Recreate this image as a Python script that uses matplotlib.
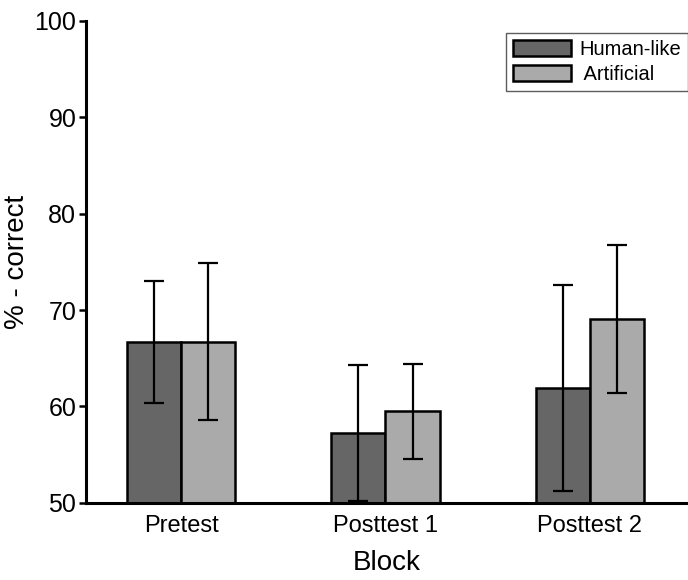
import matplotlib.pyplot as plt
import numpy as np

plt.rcParams["font.family"] = ["Liberation Sans", "DejaVu Sans"]

blocks = ["Pretest", "Posttest 1", "Posttest 2"]
human_mean = [66.7, 57.2, 61.9]
human_err = [6.35, 7.05, 10.7]
artificial_mean = [66.7, 59.5, 69.05]
artificial_err = [8.15, 4.95, 7.65]

x = np.arange(1, len(blocks) + 1)
w = 0.265

fig = plt.figure(figsize=(6.88, 5.8), dpi=100)
ax = fig.add_axes([0.125, 0.133, 0.875, 0.831])

err_kw = dict(ecolor="k", elinewidth=1.6, capsize=7, capthick=1.6)
ax.bar(x - w / 2, human_mean, w, yerr=human_err, color="#666666", ec="k", lw=1.8,
       label="Human-like", error_kw=err_kw, zorder=2)
ax.bar(x + w / 2, artificial_mean, w, yerr=artificial_err, color="#aaaaaa", ec="k", lw=1.8,
       label=" Artificial", error_kw=err_kw, zorder=2)

ax.set_xlim(0.535, 3.48)
ax.set_ylim(50, 100)
ax.set_yticks([50, 60, 70, 80, 90, 100])
ax.set_xticks(x)
ax.set_xticklabels(blocks)
ax.tick_params(axis="x", length=0, labelsize=17, pad=9)
ax.tick_params(axis="y", length=5, width=1.8, direction="out", labelsize=18, pad=2)
for s in ["top", "right"]:
    ax.spines[s].set_visible(False)
ax.spines["left"].set_linewidth(2.2)
ax.spines["bottom"].set_linewidth(2.2)

ax.set_xlabel("Block", fontsize=20, labelpad=9)
ax.set_ylabel("% - correct", fontsize=20, labelpad=3)

leg = ax.legend(loc="upper right", bbox_to_anchor=(1.0, 0.975), fontsize=14.5, frameon=True,
                fancybox=False, edgecolor="#333333", handlelength=2.9, handleheight=0.8,
                borderpad=0.35, labelspacing=0.3, handletextpad=0.4, borderaxespad=0.0)
leg.get_frame().set_linewidth(1.0)

fig.savefig("out.png")
